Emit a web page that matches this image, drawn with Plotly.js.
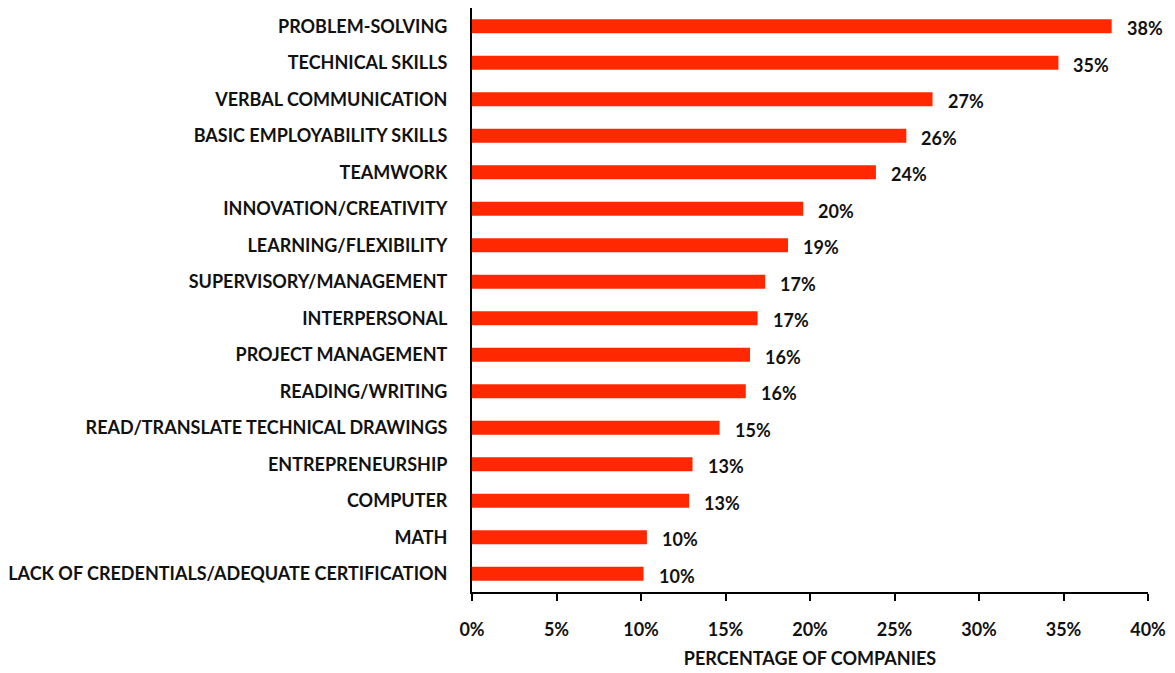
<!DOCTYPE html>
<html>
<head>
<meta charset="utf-8">
<script src="https://cdn.plot.ly/plotly-3.0.1.min.js"></script>
<style>html,body{margin:0;padding:0;background:#fff;}#chart{width:1175px;height:673px;}</style>
</head>
<body>
<div id="chart"></div>
<script>
const categories = [
  "PROBLEM-SOLVING",
  "TECHNICAL SKILLS",
  "VERBAL COMMUNICATION",
  "BASIC EMPLOYABILITY SKILLS",
  "TEAMWORK",
  "INNOVATION/CREATIVITY",
  "LEARNING/FLEXIBILITY",
  "SUPERVISORY/MANAGEMENT",
  "INTERPERSONAL",
  "PROJECT MANAGEMENT",
  "READING/WRITING",
  "READ/TRANSLATE TECHNICAL DRAWINGS",
  "ENTREPRENEURSHIP",
  "COMPUTER",
  "MATH",
  "LACK OF CREDENTIALS/ADEQUATE CERTIFICATION"
];
const values = [37.85, 34.7, 27.25, 25.7, 23.9, 19.6, 18.7, 17.35, 16.9, 16.45, 16.2, 14.65, 13.05, 12.85, 10.35, 10.15];
const valueLabels = ["38%","35%","27%","26%","24%","20%","19%","17%","17%","16%","16%","15%","13%","13%","10%","10%"];
const xTickVals = [0,5,10,15,20,25,30,35,40];
const xTickText = ["0%","5%","10%","15%","20%","25%","30%","35%","40%"];

const FONT = "Lato, 'Open Sans', sans-serif";

const trace = {
  type: "bar",
  orientation: "h",
  x: values,
  y: categories,
  marker: {color: "#FF2800"},
  hoverinfo: "none"
};

const annotations = categories.map((c, i) => ({
  x: values[i], y: c, xref: "x", yref: "y",
  text: "<b>" + valueLabels[i] + "</b>",
  showarrow: false, xanchor: "left", xshift: 13, yshift: -2,
  font: {family: FONT, size: 18, color: "#111"}
}));

const layout = {
  width: 1175, height: 673,
  margin: {l: 472, r: 27, t: 8, b: 81},
  paper_bgcolor: "#fff", plot_bgcolor: "#fff",
  showlegend: false,
  bargap: 0.62,
  xaxis: {
    range: [0, 40],
    tickvals: xTickVals, ticktext: xTickText,
    ticks: "outside", ticklen: 7, tickwidth: 2, tickcolor: "#000",
    showline: true, linecolor: "#000", linewidth: 2,
    showgrid: false, zeroline: false,
    ticklabelstandoff: 13,
    tickfont: {family: FONT, size: 18, color: "#111", weight: "bold"},
    title: {text: "<b>PERCENTAGE OF COMPANIES</b>", font: {family: FONT, size: 18, color: "#111"}, standoff: 14}
  },
  yaxis: {
    autorange: "reversed",
    showline: true, linecolor: "#000", linewidth: 2,
    ticks: "", showgrid: false, zeroline: false,
    ticklabelstandoff: 19,
    tickfont: {family: FONT, size: 18, color: "#111", weight: "bold"}
  },
  annotations: annotations
};

Plotly.newPlot("chart", [trace], layout, {displayModeBar: false, staticPlot: true});
</script>
</body>
</html>
